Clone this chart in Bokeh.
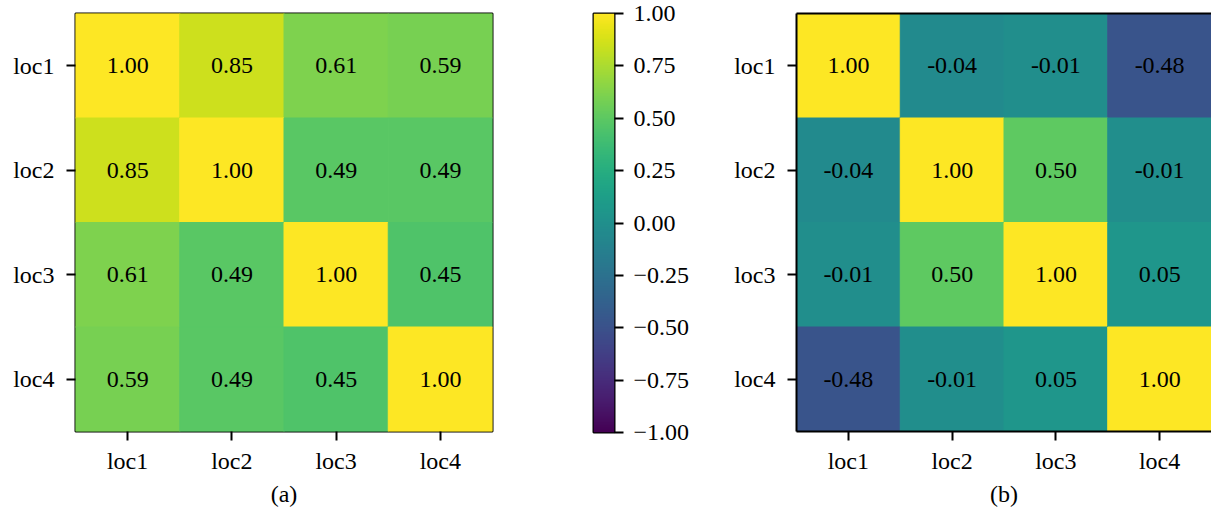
import numpy as np
from bokeh.plotting import figure
from bokeh.layouts import row
from bokeh.models import (ColumnDataSource, LinearColorMapper, FixedTicker,
                          LinearAxis, Range1d)
from bokeh.palettes import Viridis256
from bokeh.core.properties import value
from bokeh.embed import file_html
from bokeh.resources import INLINE

# ---------------- data ----------------
locs = ["loc1", "loc2", "loc3", "loc4"]
corr_a = [
    [1.00, 0.85, 0.61, 0.59],
    [0.85, 1.00, 0.49, 0.49],
    [0.61, 0.49, 1.00, 0.45],
    [0.59, 0.49, 0.45, 1.00],
]
corr_b = [
    [1.00, -0.04, -0.01, -0.48],
    [-0.04, 1.00, 0.50, -0.01],
    [-0.01, 0.50, 1.00, 0.05],
    [-0.48, -0.01, 0.05, 1.00],
]
cbar_ticks = [-1.0, -0.75, -0.5, -0.25, 0.0, 0.25, 0.5, 0.75, 1.0]
panel_labels = ["(a)", "(b)"]

# ---------------- style ----------------
FONT = "Liberation Serif"
FS = "24px"
mapper = LinearColorMapper(palette=Viridis256, low=-1, high=1)


def style_axes(p):
    p.grid.visible = False
    p.axis.major_tick_out = 9
    p.axis.major_tick_in = 0
    p.axis.major_tick_line_width = 2
    p.axis.major_tick_line_color = "black"
    p.axis.major_label_text_font = FONT
    p.axis.major_label_text_font_size = FS
    p.axis.major_label_text_color = "black"


def heatmap(mat, label, border_left, frame_w, border_right, full_outline):
    xs, ys, vals, txt = [], [], [], []
    for i, r in enumerate(locs):
        for j, c in enumerate(locs):
            xs.append(c)
            ys.append(r)
            vals.append(mat[i][j])
            txt.append(f"{mat[i][j]:.2f}")
    src = ColumnDataSource(dict(x=xs, y=ys, v=vals, t=txt))
    p = figure(x_range=locs, y_range=list(reversed(locs)),
               frame_width=frame_w, frame_height=418,
               min_border_left=border_left, min_border_right=border_right,
               min_border_top=13, min_border_bottom=0,
               toolbar_location=None, output_backend="svg")
    cmap = {"field": "v", "transform": mapper}
    p.rect("x", "y", 1, 1, source=src, fill_color=cmap, line_color=cmap, line_width=1)
    p.text("x", "y", text="t", source=src, text_align="center",
           text_baseline="middle", text_font=value(FONT), text_font_size=FS,
           text_color="black")
    style_axes(p)
    p.yaxis.major_label_standoff = 12
    p.xaxis.major_label_standoff = 7
    p.xaxis.axis_label = label
    p.xaxis.axis_label_text_font = FONT
    p.xaxis.axis_label_text_font_size = FS
    p.xaxis.axis_label_text_font_style = "normal"
    p.xaxis.axis_label_text_color = "black"
    p.xaxis.axis_label_standoff = 4
    if full_outline:
        p.outline_line_color = "black"
        p.outline_line_width = 2
        p.axis.axis_line_color = None
    else:
        # right edge of this panel is cut by the window: border on 3 sides only
        p.outline_line_color = None
        p.axis.axis_line_color = "black"
        p.axis.axis_line_width = 2
        top = LinearAxis(ticker=FixedTicker(ticks=[]), major_tick_out=0,
                         major_tick_in=0, minor_tick_out=0, minor_tick_in=0,
                         major_label_standoff=0,
                         axis_line_color="black", axis_line_width=2)
        p.add_layout(top, "above")
    return p


p1 = heatmap(corr_a, panel_labels[0], 75, 417, 40, True)

pc = figure(x_range=Range1d(0, 1), y_range=Range1d(-1, 1),
            frame_width=21, frame_height=419,
            min_border_left=61, min_border_right=100,
            min_border_top=13, min_border_bottom=20,
            x_axis_location=None, y_axis_location="right",
            toolbar_location=None, output_backend="svg")
grad = np.linspace(-1, 1, 256).reshape(256, 1)
pc.image(image=[grad], x=0, y=-1, dw=1, dh=2, color_mapper=mapper)
style_axes(pc)
pc.yaxis.ticker = FixedTicker(ticks=cbar_ticks)
pc.yaxis.major_label_overrides = {t: f"{t:.2f}".replace("-", "\u2212") for t in cbar_ticks}
pc.yaxis.major_label_standoff = 10
pc.yaxis.axis_line_color = None
pc.outline_line_color = "black"
pc.outline_line_width = 2

p2 = heatmap(corr_b, panel_labels[1], 82, 415, 0, False)

layout = row(p1, pc, p2, spacing=0)
open("out.html", "w").write(file_html(layout, INLINE))
